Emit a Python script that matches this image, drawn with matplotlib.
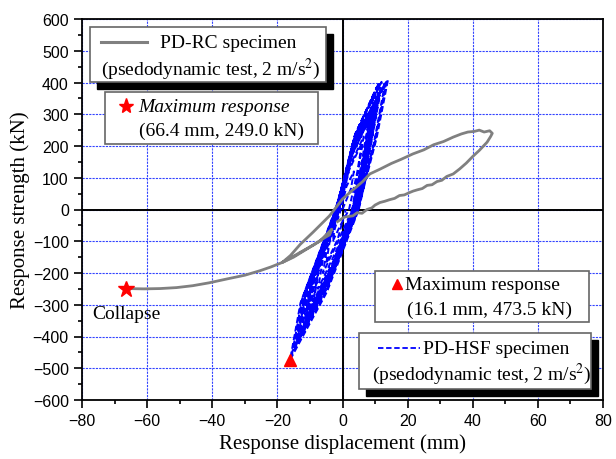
import matplotlib
matplotlib.use('Agg')
import matplotlib.pyplot as plt
from matplotlib.patches import Rectangle
from matplotlib.lines import Line2D

plt.rcParams['font.family'] = ['Liberation Serif', 'DejaVu Serif']
plt.rcParams['mathtext.fontset'] = 'stix'

# PD-RC specimen (gray curve)
rc_x = [-1.5, 0.5, 3.2, 4.5, 6.0, 7.5, 9.0, 10.0, 11.5, 13.0, 14.5, 16.0, 17.5,
        19.0, 20.5, 21.7, 23.0, 24.5, 26.0, 27.5, 29.0, 30.5, 32.0, 34.0, 36.0,
        38.0, 40.0, 42.0, 44.4, 45.5, 46.0, 45.2, 43.5, 42.0, 40.5, 38.5, 36.5,
        34.0, 31.0, 28.0, 25.0, 21.6, 18.0, 15.0, 11.5, 8.4, 6.2, 3.0, 0.0,
        -4.0, -9.0, -13.0, -16.0, -18.4, -15.5, -13.0, -9.0, -6.0, -4.0, -3.3,
        -7.0, -12.0, -15.0, -18.3, -22.0, -25.4, -30.0, -35.6, -41.0, -46.0,
        -51.0, -56.0, -61.0, -66.4]
rc_y = [-38, -24, -20, -10, -12, 0, 5, 14, 22, 26, 31, 35, 44,
        46, 53, 58, 62, 66, 76, 78, 88, 92, 104, 112, 128,
        146, 167, 186, 212, 230, 240, 248, 244, 250, 246, 244, 238,
        228, 214, 204, 188, 175, 158, 145, 127, 112, 88, 60, 33,
        -20, -71, -110, -145, -166, -150, -135, -112, -92, -80, -62,
        -100, -131, -150, -166, -181, -193, -207, -219, -231, -240,
        -246, -249, -250, -249.0]

# PD-HSF specimen (blue dashed curve), one row per cycle
hsf_x = [0.0, 2.6, 3.5, 1.2, -0.5, -2.4, -3.0,
         -0.9, 2.0, 4.5, 6.0, 2.1, -1.0, -4.8, -6.0,
         -1.8, 3.0, 6.4, 8.5, 3.0, -1.5, -7.2, -9.0,
         -2.7, 3.5, 7.1, 9.5, 3.3, -1.8, -8.8, -11.0,
         -3.3, 4.0, 7.9, 10.5, 3.7, -2.0, -10.4, -13.0,
         -3.9, 4.5, 10.1, 13.5, 4.7, -2.1, -12.0, -15.0,
         -4.5, 4.8, 10.5, 14.0, 4.9, -2.2, -12.9, -16.1,
         -4.8, 5.0, 9.8, 13.0, 4.6, -1.9, -11.6, -14.5,
         -4.4, 4.6, 8.3, 11.0, 3.9, -2.0, -12.4, -15.5,
         -4.7, 4.4, 8.6, 11.5, 4.0, -1.7, -10.0, -12.5,
         -3.8, 4.7, 10.1, 13.5, 4.7, -2.1, -11.2, -14.0,
         -4.2, 4.2, 7.9, 10.5, 3.7, -1.6, -9.2, -11.5,
         -3.5, 4.3, 8.6, 11.5, 4.0, -1.9, -10.8, -13.5,
         -4.1, 3.8, 7.1, 9.5, 3.3, -1.4, -8.0, -10.0,
         -3.0, 4.1, 8.3, 11.0, 3.9, -1.7, -9.6, -12.0,
         -3.6, 4.9, 9.0, 12.0, 4.2, -1.5, -7.2, -9.0,
         -2.7, 3.2, 6.0, 8.0, 2.8, -1.2, -6.0, -7.5,
         -2.3, 3.6, 7.5, 10.0, 3.5, -1.6, -8.4, -10.5,
         -3.2, 3.0, 4.9, 6.5, 2.3, -1.0, -4.0, -5.0,
         -1.5, 1.0]
hsf_y = [0, 66, 120, 72, 0, -62, -100,
         -55, 0, 116, 210, 126, 0, -124, -200,
         -110, 0, 160, 290, 174, 0, -180, -290,
         -160, 0, 198, 360, 216, 0, -211, -340,
         -187, 0, 212, 385, 231, 0, -242, -390,
         -215, 0, 220, 400, 240, 0, -273, -440,
         -242, 0, 226, 410, 246, 0, -294, -473.5,
         -260, 0, 217, 395, 237, 0, -267, -430,
         -237, 0, 217, 395, 237, 0, -282, -455,
         -250, 0, 198, 360, 216, 0, -236, -380,
         -209, 0, 223, 405, 243, 0, -260, -420,
         -231, 0, 187, 340, 204, 0, -223, -360,
         -198, 0, 220, 400, 240, 0, -251, -405,
         -223, 0, 176, 320, 192, 0, -198, -320,
         -176, 0, 195, 355, 213, 0, -229, -370,
         -204, 0, 221, 402, 241, 0, -186, -300,
         -165, 0, 154, 280, 168, 0, -155, -250,
         -138, 0, 184, 335, 201, 0, -205, -330,
         -182, 0, 127, 230, 138, 0, -105, -170,
         -94, 0]

rc_max = (-66.4, -249.0)
hsf_max = (-16.1, -473.5)

W, H = 616, 460
fig = plt.figure(figsize=(W / 100, H / 100), dpi=100)
ax = fig.add_axes([82 / W, 59 / H, 521 / W, 381 / H])


def fp(x, y):
    # pixel position -> figure fraction
    return x / W, 1 - y / H


ax.plot(hsf_x, hsf_y, color='#0000ff', lw=1.4, ls=(0, (3, 1.5)), zorder=3)
ax.plot(rc_x, rc_y, color='#808080', lw=2.0, zorder=4)
ax.plot(*rc_max, marker='*', color='red', ms=12, ls='none', zorder=5)
ax.plot(*hsf_max, marker='^', color='red', ms=9, ls='none', zorder=5)

ax.axhline(0, color='black', lw=1.4, zorder=2)
ax.axvline(0, color='black', lw=1.4, zorder=2)

ax.set_xlim(-80, 80)
ax.set_ylim(-600, 600)
ax.set_xticks(range(-80, 81, 20))
ax.set_xticks(range(-80, 81, 10), minor=True)
ax.set_yticks(range(-600, 601, 100))
ax.set_yticks(range(-600, 601, 50), minor=True)
ax.grid(True, which='major', color='#3344ff', lw=0.8, ls=(0, (2, 1)), zorder=1)
ax.tick_params(which='both', direction='out', top=False, right=False, width=1.2)
ax.tick_params(which='major', length=6)
ax.tick_params(which='minor', length=3)
for lab in ax.get_xticklabels() + ax.get_yticklabels():
    lab.set_family('Liberation Sans')
    lab.set_fontsize(11.5)
for s in ax.spines.values():
    s.set_linewidth(1.3)

ax.set_xlabel('Response displacement (mm)', fontsize=15, labelpad=4)
ax.set_ylabel('Response strength (kN)', fontsize=15, labelpad=2)

ax.text(-77, -329, 'Collapse', fontsize=14, va='center', ha='left')


def box(x0, y0, x1, y1, shadow=False):
    if shadow:
        fig.add_artist(Rectangle(fp(x0 + 7, y1 + 7), (x1 - x0) / W, (y1 - y0) / H,
                                 transform=fig.transFigure, facecolor='black',
                                 edgecolor='black', zorder=6))
    fig.add_artist(Rectangle(fp(x0, y1), (x1 - x0) / W, (y1 - y0) / H,
                             transform=fig.transFigure, facecolor='white',
                             edgecolor='#666666', lw=1.2, zorder=7))


# PD-RC legend
box(90, 28, 326, 83, shadow=True)
fig.add_artist(Line2D([101 / W, 147 / W], [1 - 43 / H] * 2, transform=fig.transFigure,
                      color='#808080', lw=2.2, zorder=8))
fig.text(*fp(160, 44), 'PD-RC specimen', fontsize=14, va='center', zorder=9)
fig.text(*fp(101, 69), '(psedodynamic test, 2 m/s$^2$)', fontsize=14, va='center', zorder=9)

# maximum response RC
box(105, 93, 318, 145)
fig.add_artist(Line2D([126 / W], [1 - 107 / H], transform=fig.transFigure, marker='*',
                      color='red', ms=11, ls='none', zorder=8))
fig.text(*fp(138, 108), 'Maximum response', fontsize=14, style='italic', va='center', zorder=9)
fig.text(*fp(139, 131), '(66.4 mm, 249.0 kN)', fontsize=14, va='center', zorder=9)

# maximum response HSF
box(375, 272, 589, 323)
fig.add_artist(Line2D([397 / W], [1 - 285 / H], transform=fig.transFigure, marker='^',
                      color='red', ms=7, ls='none', zorder=8))
fig.text(*fp(405, 286), 'Maximum response', fontsize=14, va='center', zorder=9)
fig.text(*fp(407, 310), '(16.1 mm, 473.5 kN)', fontsize=14, va='center', zorder=9)

# PD-HSF legend
box(359, 334, 591, 390, shadow=True)
fig.add_artist(Line2D([378 / W, 420 / W], [1 - 349 / H] * 2, transform=fig.transFigure,
                      color='#0000ff', lw=1.3, ls=(0, (3, 1.5)), zorder=8))
fig.text(*fp(423, 350), 'PD-HSF specimen', fontsize=14, va='center', zorder=9)
fig.text(*fp(372, 374), '(psedodynamic test, 2 m/s$^2$)', fontsize=14, va='center', zorder=9)

fig.savefig('out.png', dpi=100)
